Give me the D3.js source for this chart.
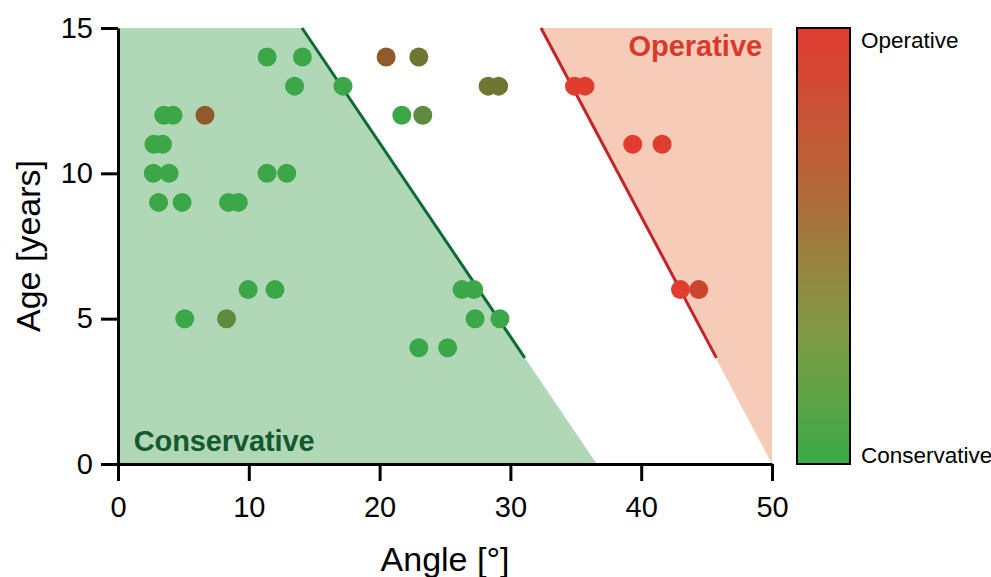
<!DOCTYPE html>
<html>
<head>
<meta charset="utf-8">
<script src="https://cdn.jsdelivr.net/npm/d3@7"></script>
<style>
  body { margin: 0; background: #fff; }
  text { font-family: "Liberation Sans", Arial, sans-serif; }
</style>
</head>
<body>
<div id="chart"></div>
<script>
// angle [deg], age [years], score (0 = conservative, 1 = operative)
const angles = [11.4, 14.1, 20.5, 23.0,
  13.5, 17.2, 28.3, 29.1, 34.9, 35.7,
  3.5, 4.2, 6.65, 21.7, 23.3,
  2.75, 3.4, 39.35, 41.6,
  2.7, 3.9, 11.4, 12.9,
  3.1, 4.9, 8.45, 9.2,
  9.95, 12.0, 26.3, 27.2, 43.0, 44.4,
  5.1, 8.3, 27.3, 29.2,
  23.0, 25.2]
const ages = [14, 14, 14, 14,
  13, 13, 13, 13, 13, 13,
  12, 12, 12, 12, 12,
  11, 11, 11, 11,
  10, 10, 10, 10,
  9, 9, 9, 9,
  6, 6, 6, 6, 6, 6,
  5, 5, 5, 5,
  4, 4]
const scores = [0, 0, 0.75, 0.5,
  0, 0, 0.5, 0.5, 1, 1,
  0, 0, 0.75, 0, 0.3,
  0, 0, 1, 1,
  0, 0, 0, 0,
  0, 0, 0, 0,
  0, 0, 0, 0, 1, 0.93,
  0, 0.3, 0, 0,
  0, 0]

// zone boundaries: [angle, age]
const conservativeZone = [[0, 0], [0, 15], [14.07, 15], [36.6, 0]]
const conservativeLine = [[14.07, 15], [31.1, 3.65]]
const operativeZone = [[32.34, 15], [50, 15], [50, 0]]
const operativeLine = [[32.34, 15], [45.75, 3.65]]

const xTicks = [0, 10, 20, 30, 40, 50]
const yTicks = [0, 5, 10, 15]
const legendLabels = ["Operative", "Conservative"]

const W = 991, H = 577
const margin = { top: 28, right: 219, bottom: 113, left: 118 },
    width = W - margin.left - margin.right,
    height = H - margin.top - margin.bottom

const svg = d3.select("#chart")
    .append("svg")
    .attr("width", W)
    .attr("height", H)

const g = svg.append("g")
    .attr("transform", "translate(" + margin.left + "," + margin.top + ")")

const x = d3.scaleLinear().domain([0, 50]).range([0, width])
const y = d3.scaleLinear().domain([0, 15]).range([height, 0])

const dotColor = d3.scaleLinear()
    .domain([0, 0.3, 0.5, 0.75, 1])
    .range(["#3ba748", "#5f8b3e", "#6f7631", "#915a2b", "#e03d2f"])

const barColor = d3.scaleLinear()
    .domain([0, 0.3, 0.5, 0.7, 1])
    .range(["#3aab48", "#7f9a43", "#9c7d3e", "#be5e38", "#e03c31"])

const area = d3.line().x(d => x(d[0])).y(d => y(d[1]))

// zones
g.append("path")
    .attr("d", area(conservativeZone) + "Z")
    .attr("fill", "#b1d8b6")
g.append("path")
    .attr("d", area(operativeZone) + "Z")
    .attr("fill", "#f6cbb8")

g.append("path")
    .attr("d", area(conservativeLine))
    .attr("stroke", "#0f6b33")
    .attr("stroke-width", 3)
    .attr("fill", "none")
g.append("path")
    .attr("d", area(operativeLine))
    .attr("stroke", "#c2242a")
    .attr("stroke-width", 3)
    .attr("fill", "none")

// zone labels
g.append("text")
    .attr("x", x(1.2))
    .attr("y", y(0) - 13)
    .attr("fill", "#14592f")
    .attr("font-size", 29)
    .attr("font-weight", "bold")
    .attr("textLength", 181)
    .text("Conservative")
g.append("text")
    .attr("x", x(49.25))
    .attr("y", y(14.05))
    .attr("text-anchor", "end")
    .attr("fill", "#d83b2d")
    .attr("font-size", 29)
    .attr("font-weight", "bold")
    .text("Operative")

// dots
g.append("g")
    .selectAll("circle")
    .data(angles.map((a, i) => ({ angle: a, age: ages[i], score: scores[i] })))
    .enter()
    .append("circle")
    .attr("cx", d => x(d.angle))
    .attr("cy", d => y(d.age))
    .attr("r", 9.5)
    .attr("fill", d => dotColor(d.score))

// axes
const xAxis = g.append("g")
    .attr("transform", "translate(0," + height + ")")
    .call(d3.axisBottom(x).tickValues(xTicks).tickSize(17).tickSizeOuter(0).tickPadding(15))
const yAxis = g.append("g")
    .call(d3.axisLeft(y).tickValues(yTicks).tickSize(17).tickSizeOuter(0).tickPadding(8))

;[xAxis, yAxis].forEach(ax => {
    ax.selectAll("path, line").attr("stroke", "#000").attr("stroke-width", 3)
    ax.selectAll("text").attr("font-size", 29).attr("fill", "#000")
        .style("font-family", "'Liberation Sans', Arial, sans-serif")
})

svg.append("text")
    .attr("x", margin.left + x(25))
    .attr("y", 571)
    .attr("text-anchor", "middle")
    .attr("font-size", 34)
    .text("Angle [°]")
svg.append("text")
    .attr("transform", "translate(40," + (margin.top + y(7.5)) + ") rotate(-90)")
    .attr("text-anchor", "middle")
    .attr("font-size", 34)
    .text("Age [years]")

// colour bar
const grad = svg.append("defs").append("linearGradient")
    .attr("id", "cbar")
    .attr("x1", 0).attr("y1", 1).attr("x2", 0).attr("y2", 0)
d3.range(0, 1.0001, 0.1).forEach(t => {
    grad.append("stop").attr("offset", t).attr("stop-color", barColor(t))
})

const bar = svg.append("g").attr("transform", "translate(797," + margin.top + ")")
bar.append("rect")
    .attr("x", 0).attr("y", 0)
    .attr("width", 53).attr("height", height)
    .attr("fill", "url(#cbar)")
    .attr("stroke", "#000")
    .attr("stroke-width", 2)

bar.selectAll("text.lbl")
    .data(legendLabels)
    .enter()
    .append("text")
    .attr("class", "lbl")
    .attr("x", 64)
    .attr("y", (d, i) => i === 0 ? 20 : height - 1)
    .attr("font-size", 22.5)
    .style("font-family", "'Liberation Sans', Arial, sans-serif")
    .text(d => d)
</script>
</body>
</html>
